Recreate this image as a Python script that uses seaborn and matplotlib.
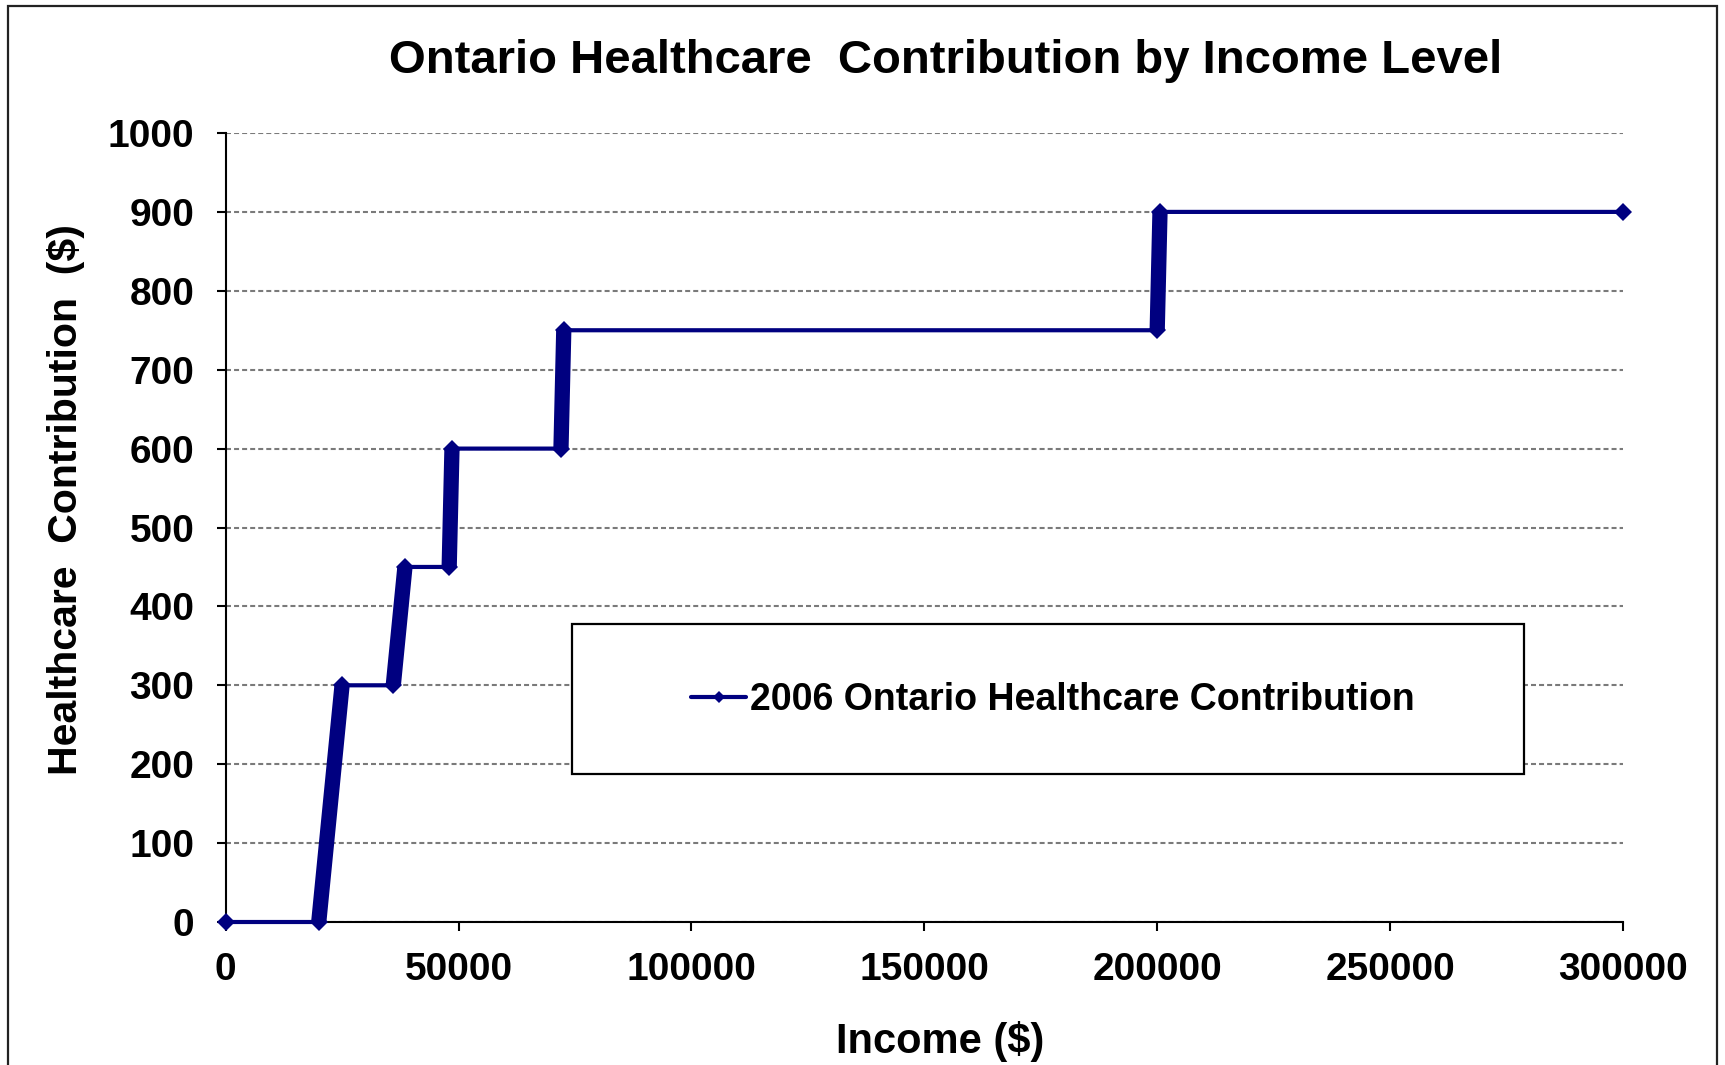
import matplotlib
matplotlib.use("Agg")
import matplotlib.pyplot as plt
import seaborn as sns
import pandas as pd
from matplotlib.lines import Line2D
from matplotlib.patches import Rectangle

# 2006 Ontario Health Premium schedule: income breakpoints and contribution
income = [0, 20000, 25000, 36000, 38500, 48000, 48600, 72000, 72600, 200000, 200600, 300000]
contribution = [0, 0, 300, 300, 450, 450, 600, 600, 750, 750, 900, 900]
series_name = "2006 Ontario Healthcare Contribution"

x_ticks = [0, 50000, 100000, 150000, 200000, 250000, 300000]
y_ticks = [0, 100, 200, 300, 400, 500, 600, 700, 800, 900, 1000]

NAVY = "#000080"
W, H = 1725, 1065

sns.set_theme(style="white")
plt.rcParams["font.family"] = ["Liberation Sans", "DejaVu Sans"]
plt.rcParams["font.weight"] = "bold"
plt.rcParams["lines.scale_dashes"] = False
for key in ("text.color", "axes.labelcolor", "xtick.color", "ytick.color"):
    plt.rcParams[key] = "black"

fig = plt.figure(figsize=(W / 100, H / 100), dpi=100)
fig.patch.set_facecolor("white")
ax = fig.add_axes([225.6 / W, 1 - 922 / H, (1623 - 225.6) / W, (922 - 133) / H])

df = pd.DataFrame({"income": income, "contribution": contribution})

# main stepped series with diamond markers
sns.lineplot(data=df, x="income", y="contribution", ax=ax, color=NAVY,
             linewidth=3.0, marker="D", markersize=9.5, markeredgewidth=0,
             sort=False, legend=False, zorder=5, clip_on=False)

# ramp sections, where the densely sampled markers merge into a heavy band
for i in range(len(income) - 1):
    if contribution[i + 1] != contribution[i]:
        ax.plot(income[i:i + 2], contribution[i:i + 2], color=NAVY,
                linewidth=11.0, solid_capstyle="butt", zorder=4)

ax.set_xlim(0, 300000)
ax.set_ylim(0, 1000)
ax.set_xticks(x_ticks)
ax.set_yticks(y_ticks)
ax.set_xticklabels([str(v) for v in x_ticks])
ax.set_yticklabels([str(v) for v in y_ticks])
ax.tick_params(axis="both", labelsize=28, colors="black", direction="out",
               length=6.5, width=1.5)
ax.tick_params(axis="x", pad=15, bottom=True)
ax.tick_params(axis="y", pad=16, left=True)
for lab in ax.get_xticklabels() + ax.get_yticklabels():
    lab.set_fontweight("bold")

ax.yaxis.grid(True, color="#7a7a7a", linewidth=1.5, linestyle=(0, (3.6, 2.2)))
ax.xaxis.grid(False)
ax.set_axisbelow(True)
for side in ("top", "right"):
    ax.spines[side].set_visible(False)
for side in ("left", "bottom"):
    ax.spines[side].set_color("black")
    ax.spines[side].set_linewidth(1.5)

ax.set_xlabel("")
ax.set_ylabel("")
fig.text(940 / W, 1 - 1041 / H, "Income ($)", ha="center", va="center",
         fontsize=30, fontweight="bold", color="black")
fig.text(66 / W, 1 - 500 / H, "Healthcare  Contribution  ($)", ha="center",
         va="center", rotation=90, fontsize=29.5, fontweight="bold", color="black")
fig.text(946 / W, 1 - 61 / H, "Ontario Healthcare  Contribution by Income Level",
         ha="center", va="center", fontsize=34, fontweight="bold", color="black")

# legend box
fig.patches.append(Rectangle((572 / W, 1 - 774 / H), (1524 - 572) / W, 150 / H,
                             transform=fig.transFigure, facecolor="white",
                             edgecolor="black", linewidth=1.6, zorder=6))
handle = Line2D([], [], color=NAVY, linewidth=3.0, marker="D", markersize=6,
                markeredgewidth=0)
leg = fig.legend([handle], [series_name], loc="center left",
                 bbox_to_anchor=(691 / W, 1 - 700 / H), frameon=False,
                 borderpad=0, borderaxespad=0, handlelength=1.47,
                 handletextpad=0.1, prop={"size": 27, "weight": "bold"})
for t in leg.get_texts():
    t.set_color("black")
leg.set_zorder(7)

# chart area border
fig.patches.append(Rectangle((8 / W, -0.05), (1717 - 8) / W, 1.05 - 6 / H,
                             transform=fig.transFigure, facecolor="none",
                             edgecolor="#222222", linewidth=1.6, zorder=10))

fig.savefig("out.png", dpi=100, facecolor="white")
